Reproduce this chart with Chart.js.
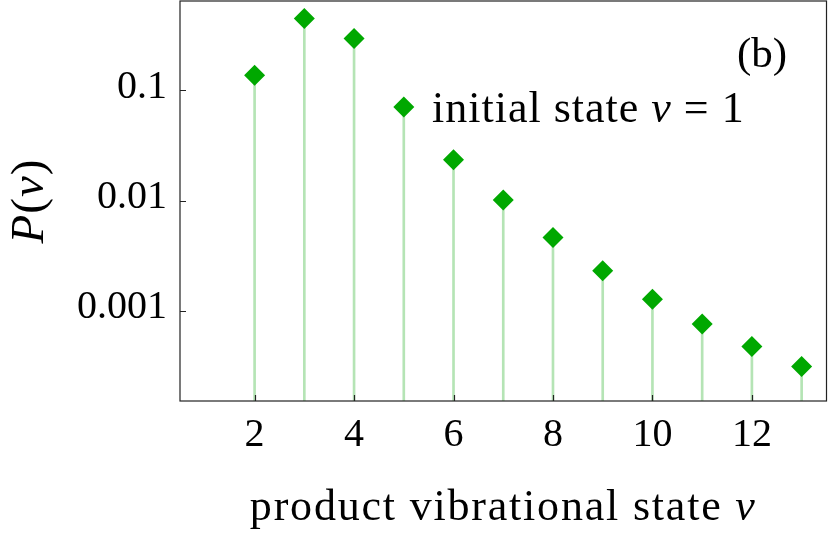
<!DOCTYPE html>
<html>
<head>
<meta charset="utf-8">
<script src="https://cdn.jsdelivr.net/npm/chart.js@4"></script>
<style>
  html, body { margin: 0; padding: 0; background: #fff; }
  #wrap { width: 830px; height: 542px; position: relative; }
</style>
</head>
<body>
<div id="wrap"><canvas id="pv"></canvas></div>
<script>
// ── DATA ──────────────────────────────────────────────
const states = [2, 3, 4, 5, 6, 7, 8, 9, 10, 11, 12, 13];
const probs  = [0.137, 0.448, 0.295, 0.0705, 0.0234, 0.0101, 0.00461, 0.00231, 0.00127, 0.000757, 0.000474, 0.000312];
const xTicks = [2, 4, 6, 8, 10, 12];
const yTicks = [0.001, 0.01, 0.1];
const yTickLabels = ['0.001', '0.01', '0.1'];

const SERIF = '"Liberation Serif", "DejaVu Serif", serif';
const AXIS = '#222';

// ── FRAME + INWARD TICKS ──────────────────────────────
const framePlugin = {
    id: 'frame',
    afterDatasetsDraw(chart) {
        const { ctx, chartArea: a, scales } = chart;
        ctx.save();
        ctx.strokeStyle = AXIS; ctx.lineWidth = 1.2;
        ctx.strokeRect(a.left, a.top, a.right - a.left, a.bottom - a.top);
        ctx.beginPath();
        xTicks.forEach(v => { const px = Math.round(scales.x.getPixelForValue(v)) + 0.5; ctx.moveTo(px, a.bottom); ctx.lineTo(px, a.bottom - 6); });
        yTicks.forEach(v => { const py = Math.round(scales.y.getPixelForValue(v)) + 0.5; ctx.moveTo(a.left, py); ctx.lineTo(a.left + 6, py); });
        ctx.stroke();
        ctx.restore();
    }
};

// ── TEXTS (titles, panel tag, label) ──────────────────
function runs(ctx, x, y, parts, size, sp) {
    ctx.letterSpacing = (sp || 0) + 'px';
    parts.forEach(([txt, it]) => {
        ctx.font = (it ? 'italic ' : '') + size + 'px ' + SERIF;
        ctx.fillText(txt, x, y);
        x += ctx.measureText(txt).width;
    });
    ctx.letterSpacing = '0px';
}
function runsWidth(ctx, parts, size, sp) {
    ctx.letterSpacing = (sp || 0) + 'px';
    const w = parts.reduce((w, [txt, it]) => { ctx.font = (it ? 'italic ' : '') + size + 'px ' + SERIF; return w + ctx.measureText(txt).width; }, 0);
    ctx.letterSpacing = '0px';
    return w;
}
const textPlugin = {
    id: 'texts',
    afterDraw(chart) {
        const { ctx, chartArea: a } = chart;
        ctx.save();
        ctx.fillStyle = '#000'; ctx.textBaseline = 'alphabetic'; ctx.textAlign = 'left';
        const xt = [['product vibrational state ', false], ['v', true]];
        runs(ctx, (a.left + a.right) / 2 - runsWidth(ctx, xt, 44, 1.8) / 2, 520, xt, 44, 1.8);
        runs(ctx, 737, 67, [['(b)', false]], 43);
        runs(ctx, 432, 122, [['initial state ', false], ['v', true], [' = 1', false]], 44, 1);
        const yt = [['P', true], ['(', false], ['v', true], [')', false]];
        ctx.translate(43, (a.top + a.bottom) / 2);
        ctx.rotate(-Math.PI / 2);
        runs(ctx, -runsWidth(ctx, yt, 47, 1) / 2, 0, yt, 47, 1);
        ctx.restore();
    }
};

new Chart(document.getElementById('pv'), {
    type: 'scatter',
    data: {
        datasets: [
            { type: 'scatter', data: states.map((s, i) => ({ x: s, y: probs[i] })), pointStyle: 'rectRot', pointRadius: 10.5, pointBackgroundColor: '#00a800', pointBorderWidth: 0, order: 1, clip: false },
            { type: 'bar', data: states.map((s, i) => ({ x: s, y: probs[i] })), backgroundColor: '#b5e4b5', barThickness: 2, order: 2 }
        ]
    },
    options: {
        responsive: true, maintainAspectRatio: false, animation: false,
        layout: { autoPadding: false, padding: { top: 1, right: 3.5 } },
        plugins: { legend: { display: false }, tooltip: { enabled: false } },
        scales: {
            x: {
                type: 'linear', min: 0.5, max: 13.5, offset: false,
                grid: { display: false, drawTicks: false }, border: { display: false },
                afterBuildTicks: s => { s.ticks = xTicks.map(v => ({ value: v })); },
                afterFit: s => { s.height = 141; s.paddingLeft = 0; s.paddingRight = 0; },
                ticks: { color: '#000', padding: 10, font: { family: SERIF, size: 40 }, callback: v => String(v) }
            },
            y: {
                type: 'logarithmic', min: 0.000152, max: 0.645,
                grid: { display: false, drawTicks: false }, border: { display: false },
                afterBuildTicks: s => { s.ticks = yTicks.map(v => ({ value: v })); },
                afterFit: s => { s.width = 180; s.paddingTop = 0; s.paddingBottom = 0; },
                ticks: { color: '#000', padding: 13, labelOffset: -3, font: { family: SERIF, size: 40 },
                         callback: v => yTickLabels[yTicks.indexOf(v)] }
            }
        }
    },
    plugins: [framePlugin, textPlugin]
});
</script>
</body>
</html>
